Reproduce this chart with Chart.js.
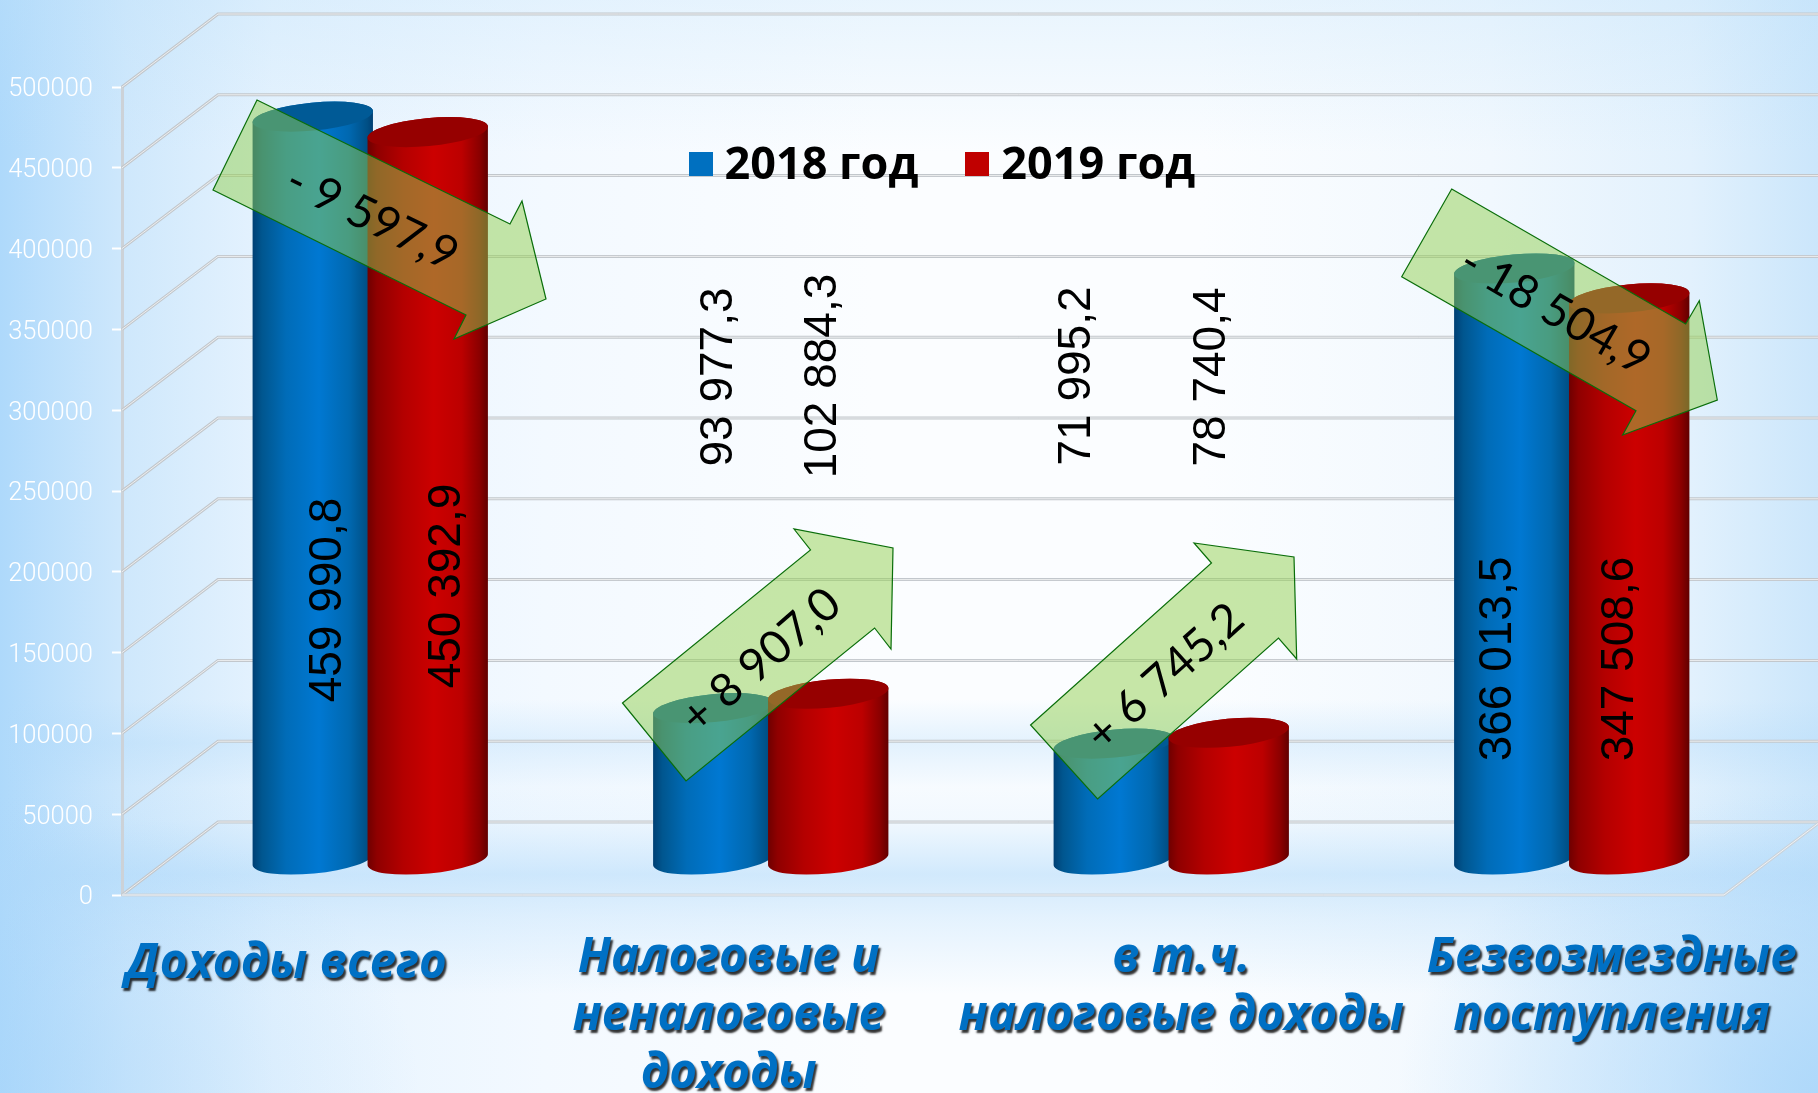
<!DOCTYPE html>
<html lang="ru"><head><meta charset="utf-8">
<style>
html,body{margin:0;padding:0;width:1818px;height:1093px;overflow:hidden}
body{background:
 radial-gradient(420px 300px at 100% 100%,rgba(165,212,250,.75),rgba(165,212,250,0)),
 radial-gradient(420px 300px at 0 100%,rgba(165,212,250,.5),rgba(165,212,250,0)),
 linear-gradient(180deg,rgba(190,225,250,.3) 0,rgba(190,225,250,0) 14%),
 linear-gradient(180deg,rgba(175,217,250,0) 0,rgba(175,217,250,0) 64%,rgba(175,217,250,.32) 68%,rgba(175,217,250,.06) 72%,rgba(175,217,250,.12) 75%,rgba(175,217,250,.55) 80%,rgba(175,217,250,.3) 84%,rgba(175,217,250,0) 91%),
 linear-gradient(90deg,#aed9fb 0,#cfe8fc 7%,#e6f3fe 15%,#f3f9ff 30%,#fbfdff 48%,#fbfdff 66%,#f1f8fe 82%,#e2f1fd 93%,#cbe6fb 100%);}
canvas{display:block}
</style>
<script src="https://cdn.jsdelivr.net/npm/chart.js@4/dist/chart.umd.min.js"></script>
</head><body><canvas id="c" width="1818" height="1093"></canvas>
<script>
const categories=[['Доходы всего'],['Налоговые и','неналоговые','доходы'],['в т.ч.','налоговые доходы'],['Безвозмездные','поступления']];
const values2018=[459990.8,93977.3,71995.2,366013.5];
const values2019=[450392.9,102884.3,78740.4,347508.6];
const changes=['- 9 597,9','+ 8 907,0','+ 6 745,2','- 18 504,9'];
const yMax=500000, yStep=50000;

const DEPTH_X=96, DEPTH_Y=-73, BAR_DX=48, BAR_DY=-35;
const TILT=-5.5*Math.PI/180, RY=14;
const styles=[
 {stops:[[0,'#003f73'],[.08,'#00568f'],[.28,'#006cb8'],[.55,'#0078d2'],[.8,'#0068b0'],[.95,'#004f85'],[1,'#003f73']],top:'#005a96'},
 {stops:[[0,'#6e0000'],[.08,'#8f0000'],[.3,'#b40000'],[.55,'#cc0000'],[.78,'#bc0000'],[.93,'#8a0000'],[1,'#600000']],top:'#960000'}
];
const labelDX=[[16,6,-36,-16],[20,-5,-16,-9]];
const labelCY=[[600,377,376,659],[586,376,377,659]];
const catLabelDX=[-36,6,58,88], catLabelY=[978,972,972,972], catLineH=58;
const arrows=[
 {pts:[[257,100],[510,224],[522,201],[546,299],[454,339],[466,315],[213,190]],tx:372,ty:218,ang:26},
 {pts:[[622.5,703],[810.5,550],[794,529],[893,548],[891,649],[874.6,628],[686,781]],tx:761,ty:661,ang:-41},
 {pts:[[1030.6,725],[1211.5,563],[1194,543],[1294,557],[1296.7,659],[1278.5,638],[1097.6,799]],tx:1165,ty:677,ang:-42},
 {pts:[[1451.7,189],[1685.7,324],[1699.3,300.7],[1717.3,400],[1622.7,435],[1636,410.7],[1401.7,276.7]],tx:1555,ty:311,ang:30}
];
const legendX=[689,965];
const fmt=v=>{const [a,b]=v.toFixed(1).split('.');return a.replace(/\B(?=(\d{3})+$)/g,' ')+','+b;};

function wallLine(ctx,pts,outer){
 ctx.save();ctx.lineJoin='miter';
 ctx.beginPath();pts.forEach((p,i)=>i?ctx.lineTo(p[0],p[1]):ctx.moveTo(p[0],p[1]));
 ctx.strokeStyle=outer;ctx.lineWidth=3;ctx.stroke();
 ctx.strokeStyle='rgba(255,255,255,.7)';ctx.lineWidth=1;ctx.stroke();
 ctx.restore();
}
const cylinderPlugin={
 id:'cylinders',
 beforeLayout(chart){
  const l=chart.legend;
  if(!l._fitPatched){
   const f=l.fit;l.fit=function(){f.call(this);this.height=0;};l._fitPatched=true;
   l._layers=()=>[{z:1,draw(a){l.draw(a);}}];
  }
 },
 afterLayout(chart){
  const l=chart.legend,pad=l.options.labels.padding;
  l.left=legendX[0]-pad;l.right=1300;l.top=98-(pad-46);l.bottom=230;l.width=l.right-l.left;l.height=l.bottom-l.top;
 },
 beforeDatasetsDraw(chart){
  const {ctx,scales:{x,y},chartArea:a}=chart;
  y.ticks.forEach(t=>{
   const py=y.getPixelForValue(t.value);
   wallLine(ctx,[[a.left,py],[a.left+DEPTH_X,py+DEPTH_Y],[a.right+DEPTH_X,py+DEPTH_Y]],'#c2c7cc');
  });
  const p0=y.getPixelForValue(0);
  wallLine(ctx,[[a.left,p0],[a.right,p0],[a.right+DEPTH_X,p0+DEPTH_Y]],'#c9d3dc');
  const m=[chart.getDatasetMeta(0),chart.getDatasetMeta(1)];
  categories.forEach((c,i)=>{
   m.forEach((meta,d)=>{
    const b=meta.data[i],cx=b.x+BAR_DX,ty=b.y+BAR_DY,by=b.base+BAR_DY,rx=b.width/2;
    const g=ctx.createLinearGradient(cx-rx,0,cx+rx,0);
    styles[d].stops.forEach(s=>g.addColorStop(s[0],s[1]));
    ctx.beginPath();
    ctx.ellipse(cx,ty,rx,RY,TILT,Math.PI,2*Math.PI);
    ctx.ellipse(cx,by,rx,RY,TILT,0,Math.PI);
    ctx.closePath();ctx.fillStyle=g;ctx.fill();
    ctx.beginPath();ctx.ellipse(cx,ty,rx,RY,TILT,0,2*Math.PI);
    ctx.fillStyle=styles[d].top;ctx.fill();
   });
  });
  return false;
 },
 afterDraw(chart){
  const {ctx,scales:{x}}=chart;
  [0,1].forEach(i=>{ctx.fillStyle=chart.data.datasets[i].backgroundColor;ctx.fillRect(legendX[i],152,24,24);});
  arrows.forEach((ar,i)=>{
   ctx.beginPath();ar.pts.forEach((p,j)=>j?ctx.lineTo(p[0],p[1]):ctx.moveTo(p[0],p[1]));ctx.closePath();
   ctx.fillStyle='rgba(146,208,80,.5)';ctx.fill();
   ctx.strokeStyle='#0a6e0a';ctx.lineWidth=1.2;ctx.stroke();
  });
  ctx.save();ctx.fillStyle='#000';ctx.font='46px "Liberation Sans"';ctx.textAlign='center';ctx.textBaseline='middle';
  chart.data.datasets.forEach((ds,d)=>{
   chart.getDatasetMeta(d).data.forEach((b,i)=>{
    ctx.save();ctx.translate(b.x+BAR_DX+labelDX[d][i],labelCY[d][i]);ctx.rotate(-Math.PI/2);
    ctx.fillText(fmt(ds.data[i]),0,0);ctx.restore();
   });
  });
  ctx.font='46px Lato';
  arrows.forEach((ar,i)=>{
   ctx.save();ctx.translate(ar.tx,ar.ty);ctx.rotate(ar.ang*Math.PI/180);ctx.fillText(changes[i],0,0);ctx.restore();
  });
  ctx.restore();
  ctx.save();
  ctx.font='italic bold 47.5px "Open Sans"';ctx.textAlign='center';ctx.textBaseline='alphabetic';
  ctx.shadowColor='rgba(0,0,0,.8)';ctx.shadowOffsetX=2;ctx.shadowOffsetY=3;ctx.shadowBlur=2;ctx.fillStyle='#0070c4';
  categories.forEach((lines,i)=>{
   const px=x.getPixelForValue(i)+catLabelDX[i];
   lines.forEach((t,k)=>ctx.fillText(t,px,catLabelY[i]+k*catLineH));
  });
  ctx.restore();
 }
};
new Chart(document.getElementById('c'),{
 type:'bar',
 data:{labels:categories.map(c=>c.join(' ')),datasets:[
  {label:'2018 год',data:values2018,backgroundColor:'#0070C0'},
  {label:'2019 год',data:values2019,backgroundColor:'#C00000'}]},
 plugins:[cylinderPlugin],
 options:{
  responsive:false,animation:false,
  categoryPercentage:.574,barPercentage:1.052,
  layout:{padding:{left:0,right:94,top:87,bottom:198}},
  scales:{
   x:{grid:{display:false},border:{display:false},ticks:{display:false},afterFit:s=>{s.height=0;}},
   y:{min:0,max:yMax,afterFit:s=>{s.width=122;},
      ticks:{stepSize:yStep,color:'#ffffff',padding:19,labelOffset:3,font:{family:'Roboto',weight:'300',size:25.5},callback:v=>String(v)},
      grid:{drawOnChartArea:false,tickLength:10,tickColor:'#ffffff',tickWidth:2},
      border:{color:'#ccd2d8',width:3}}
  },
  plugins:{
   tooltip:{enabled:false},
   legend:{display:true,position:'top',align:'start',
    labels:{boxWidth:13,boxHeight:16,padding:47.5,color:'#000',font:{family:'"Open Sans"',weight:'bold',size:45}}}
  }
 }
});
</script></body></html>
